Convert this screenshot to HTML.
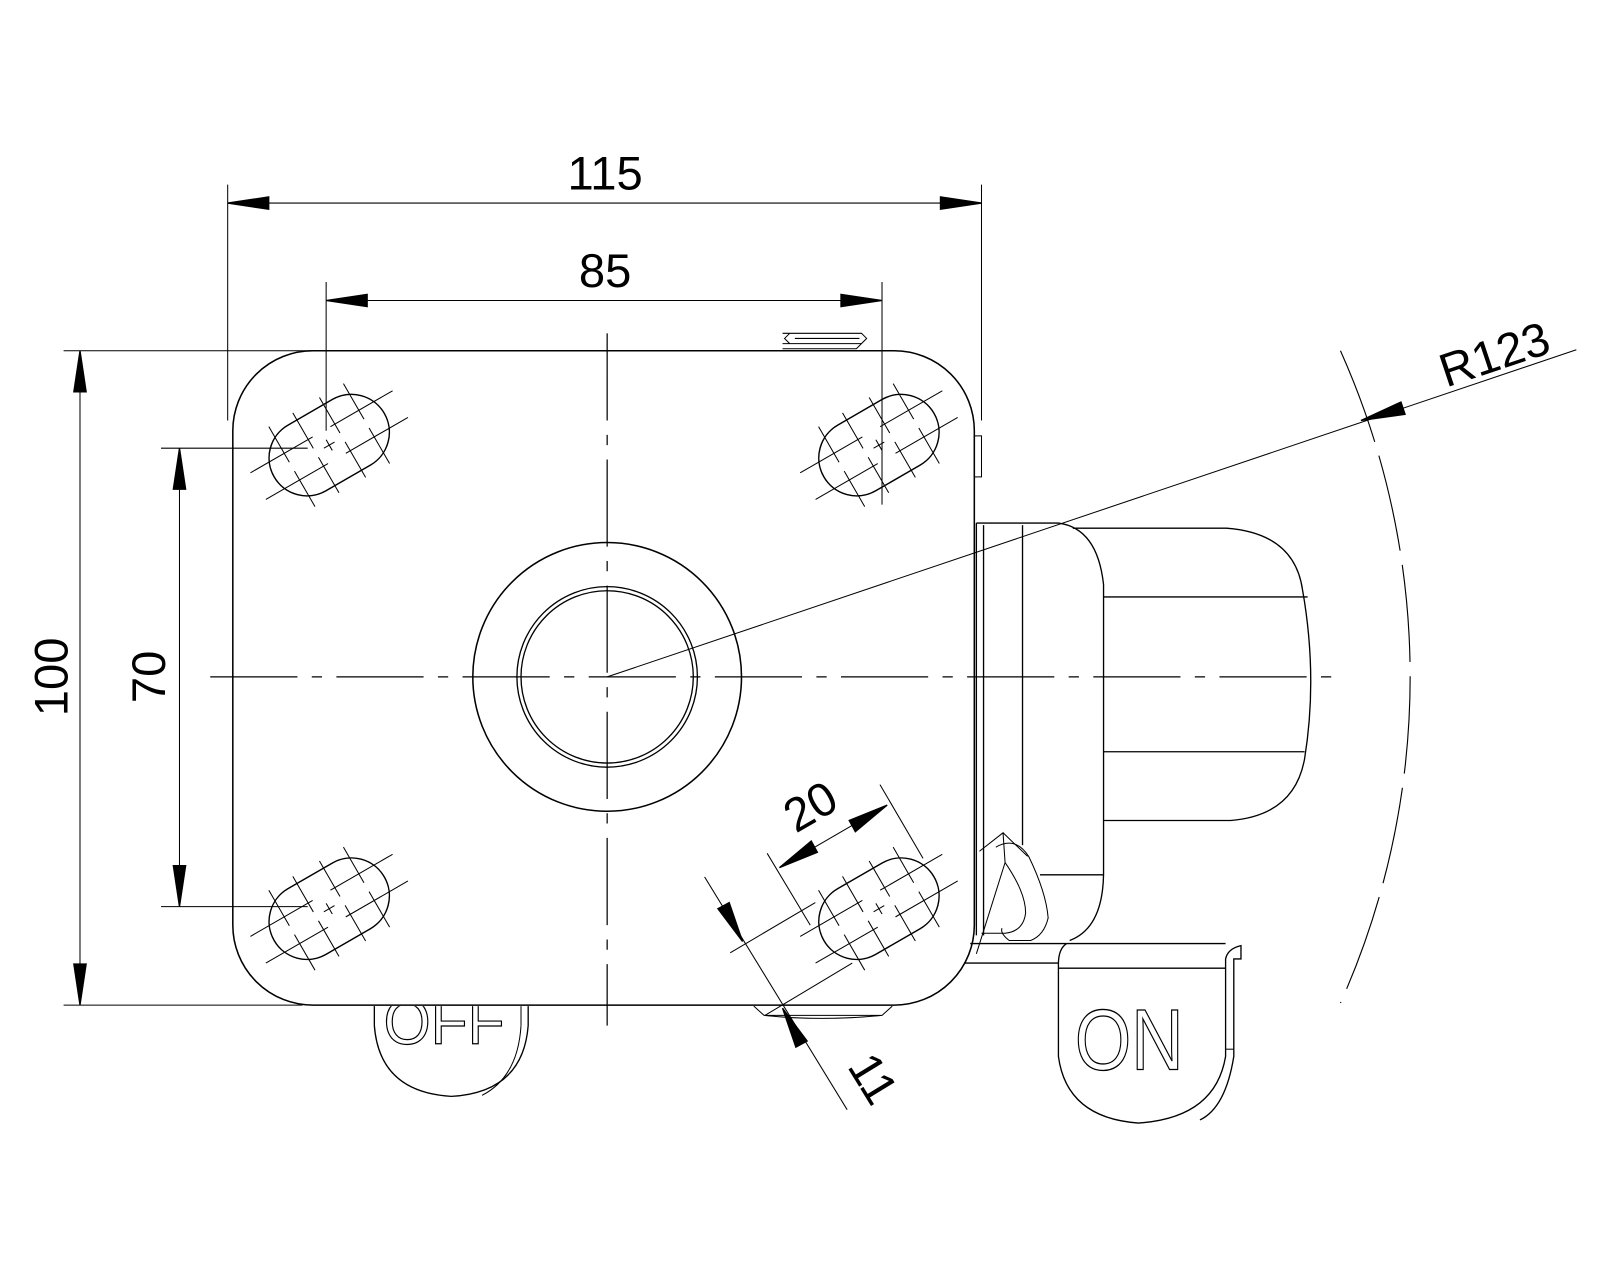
<!DOCTYPE html>
<html><head><meta charset="utf-8"><style>
html,body{margin:0;padding:0;background:#fff}
svg{display:block}
text{font-family:"Liberation Sans",sans-serif}
.t{fill:#000}
.h{fill:none;stroke:#000;stroke-width:1.3}
</style></head><body>
<svg width="1600" height="1280" viewBox="0 0 1600 1280" xmlns="http://www.w3.org/2000/svg">
<defs>
<clipPath id="cb"><rect x="0" y="981" width="1600" height="300"/></clipPath>
<g id="slot">
  <rect x="-62" y="-37" width="124" height="74" rx="37" fill="none" stroke="#000" stroke-width="1.4"/>
  <g stroke="#000" stroke-width="1">
    <line x1="-80" y1="-15" x2="-10" y2="-15"/><line x1="10" y1="-15" x2="80" y2="-15"/>
    <line x1="-80" y1="15" x2="-10" y2="15"/><line x1="10" y1="15" x2="80" y2="15"/>
    <line x1="-42" y1="-45" x2="-42" y2="-5"/><line x1="-42" y1="5" x2="-42" y2="45"/>
    <line x1="-15" y1="-45" x2="-15" y2="-5"/><line x1="-15" y1="5" x2="-15" y2="45"/>
    <line x1="15" y1="-45" x2="15" y2="-5"/><line x1="15" y1="5" x2="15" y2="45"/>
    <line x1="42" y1="-45" x2="42" y2="-5"/><line x1="42" y1="5" x2="42" y2="45"/>
    <line x1="-6" y1="0" x2="6" y2="0"/><line x1="0" y1="-6" x2="0" y2="6"/>
  </g>
</g>
</defs>
<g transform="scale(1.0256)" stroke="#000" stroke-width="1.3" fill="none">
  <rect x="227" y="342" width="723" height="638" rx="78" stroke-width="1.5"/>
  <rect x="950" y="425" width="7" height="40" stroke-width="1"/>
  <path d="M763 325 L840 325 L845 330 L840 335 L763 335 M763 340 L835 340 L843 332 M770 325 L765 330 L770 335 M775 330 L838 330" stroke-width="1"/>
  <line x1="205" y1="660" x2="1302" y2="660" stroke-width="1.2" stroke-dasharray="85,14,10,14"/>
  <line x1="592" y1="325" x2="592" y2="1000" stroke-width="1.2" stroke-dasharray="85,14,10,14"/>
  <circle cx="592" cy="660" r="131" stroke-width="1.5"/>
  <circle cx="592" cy="660" r="88"/>
  <circle cx="592" cy="660" r="84"/>
  <use href="#slot" transform="translate(321,434) rotate(-30)"/>
  <use href="#slot" transform="translate(857,434) rotate(-30)"/>
  <use href="#slot" transform="translate(321,886) rotate(-30)"/>
  <use href="#slot" transform="translate(857,886) rotate(-30)"/>
  <path d="M735 981 L745 990 L860 990 L870 981 M745 990 Q800 996 860 990" stroke-width="1"/>
  <line x1="952" y1="510" x2="952" y2="912"/>
  <line x1="959" y1="512" x2="959" y2="912"/>
  <line x1="997" y1="512" x2="997" y2="824"/>
  <path d="M952 510 L1032 510 Q1070 515 1076 570 L1076 853 Q1075 905 1043 917"/>
  <line x1="1014" y1="853" x2="1076" y2="853"/>
  <path d="M1046 515 L1196 515 Q1262 520 1270 575 Q1285 660 1272 740 Q1262 795 1200 800 L1076 800"/>
  <line x1="1076" y1="582" x2="1275" y2="582"/>
  <line x1="1076" y1="733" x2="1272" y2="733"/>
  <path d="M971 826 Q990 815 1003 835 Q1020 870 1022 895 Q1018 912 1005 917 L984 917 Q975 910 977 905" stroke-width="1"/>
  <path d="M980 841 Q1000 870 1000 890 Q998 908 980 910 L957 910" stroke-width="1"/>
  <path d="M980 841 L952 930 M980 841 L978 812 L955 830 M978 812 L1002 835" stroke-width="1"/>
  <line x1="946" y1="920" x2="1195" y2="920"/>
  <line x1="940" y1="939" x2="1032" y2="939"/>
  <path d="M1040 920 Q1032 925 1032 940 L1032 1030 Q1040 1090 1110 1095 Q1185 1090 1195 1030 L1195 935 Q1197 925 1210 922 L1210 935 L1203 935 L1203 1030 Q1195 1080 1170 1092"/>
  <line x1="1032" y1="944" x2="1195" y2="944"/>
  <line x1="1195" y1="1023" x2="1203" y2="1023" stroke-width="1"/>
  <text class="h" x="1048" y="1043" font-size="84" textLength="106" lengthAdjust="spacingAndGlyphs">ON</text>
  <path d="M365 981 L365 1000 Q370 1065 440 1069 Q510 1065 515 1000 L515 981"/>
  <path d="M508 1000 Q505 1050 470 1068" stroke-width="1"/>
  <line x1="508" y1="981" x2="508" y2="1000" stroke-width="1"/>
  <g clip-path="url(#cb)"><text class="h" x="374" y="1018" font-size="62" textLength="118" lengthAdjust="spacingAndGlyphs" style="stroke-width:1.2">OFF</text></g>
  <line x1="222" y1="180" x2="222" y2="410" stroke-width="1"/>
  <line x1="957" y1="180" x2="957" y2="410" stroke-width="1"/>
  <line x1="222" y1="198" x2="957" y2="198" stroke-width="1"/>
  <path d="M222 198 L262 192 L262 204Z M957 198 L917 192 L917 204Z" fill="#000"/>
  <line x1="318" y1="275" x2="318" y2="420" stroke-width="1"/>
  <line x1="860" y1="275" x2="860" y2="492" stroke-width="1"/>
  <line x1="318" y1="293" x2="860" y2="293" stroke-width="1"/>
  <path d="M318 293 L358 287 L358 299Z M860 293 L820 287 L820 299Z" fill="#000"/>
  <line x1="62" y1="342" x2="840" y2="342" stroke-width="1"/>
  <line x1="62" y1="980" x2="295" y2="980" stroke-width="1"/>
  <line x1="78" y1="342" x2="78" y2="980" stroke-width="1"/>
  <path d="M78 342 L72 382 L84 382Z M78 980 L72 940 L84 940Z" fill="#000"/>
  <line x1="157" y1="437" x2="300" y2="437" stroke-width="1"/>
  <line x1="157" y1="884" x2="300" y2="884" stroke-width="1"/>
  <line x1="175" y1="437" x2="175" y2="884" stroke-width="1"/>
  <path d="M175 437 L169 477 L181 477Z M175 884 L169 844 L181 844Z" fill="#000"/>
  <path d="M1307 342 A778 778 0 0 1 1307 978" stroke-width="1.1" stroke-dasharray="95,14"/>
  <line x1="592" y1="660" x2="1537" y2="341" stroke-width="1"/>
  <path d="M1327 410 L1366 392 L1370 404Z" fill="#000"/>
  <line x1="748" y1="832" x2="790" y2="902" stroke-width="1"/>
  <line x1="858" y1="765" x2="900" y2="837" stroke-width="1"/>
  <line x1="760" y1="846" x2="865" y2="785" stroke-width="1"/>
  <path d="M760 846 L791 820 L797 831Z M865 785 L834 811 L828 800Z" fill="#000"/>
  <line x1="712" y1="929" x2="795" y2="880" stroke-width="1"/>
  <line x1="746" y1="990" x2="831" y2="939" stroke-width="1"/>
  <line x1="687" y1="855" x2="826" y2="1082" stroke-width="1"/>
  <path d="M724 918 L700 886 L711 880Z M763 983 L787 1015 L776 1021Z" fill="#000"/>
</g>
<g transform="scale(1.0256)" class="t">
  <text class="t" x="590" y="185" font-size="46" text-anchor="middle">115</text>
  <text class="t" x="590" y="280" font-size="46" text-anchor="middle">85</text>
  <text class="t" transform="translate(66,660) rotate(-90)" font-size="46" text-anchor="middle">100</text>
  <text class="t" transform="translate(161,660) rotate(-90)" font-size="46" text-anchor="middle">70</text>
  <text class="t" transform="translate(1410,378) rotate(-18.5)" font-size="46">R123</text>
  <text class="t" transform="translate(798,800) rotate(-30)" font-size="46" text-anchor="middle">20</text>
  <text class="t" transform="translate(838,1060) rotate(58.5)" font-size="46" text-anchor="middle">11</text>
</g>
</svg>
</body></html>
